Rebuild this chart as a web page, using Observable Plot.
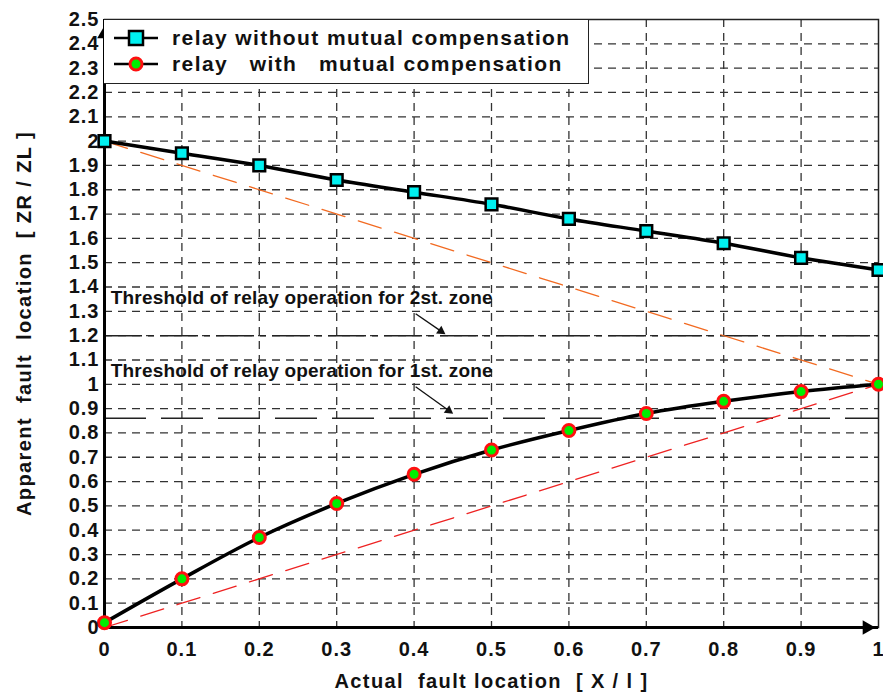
<!DOCTYPE html>
<html>
<head>
<meta charset="utf-8">
<script src="https://cdn.jsdelivr.net/npm/d3@7"></script>
<script src="https://cdn.jsdelivr.net/npm/@observablehq/plot@0.6"></script>
<style>
  body { margin: 0; background: white; }
  #wrap { position: relative; width: 883px; height: 695px; }
  svg text { white-space: pre; }
  svg [aria-label="x-axis tick label"] text, svg [aria-label="y-axis tick label"] text { letter-spacing: 1px; }
  svg [aria-label="x-axis label"], svg [aria-label="y-axis label"] { letter-spacing: 1.4px; }
  svg .annot text { letter-spacing: 0.2px; }
  #legend {
    position: absolute; left: 104px; top: 19px; width: 485px; height: 65px;
    background: white; border: 1.5px solid #222; border-left: none; box-sizing: border-box;
    font-family: "Liberation Sans", Arial, sans-serif; font-weight: bold; font-size: 21px;
    letter-spacing: 1.4px; color: #111;
  }
  .row { position: absolute; left: 0; height: 26px; display: flex; align-items: center; white-space: pre; }
  .row svg { margin-left: 10px; margin-right: 14px; }
</style>
</head>
<body>
<div id="wrap"></div>
<script>
// ---- data ----
const xPos = [0, 0.1, 0.2, 0.3, 0.4, 0.5, 0.6, 0.7, 0.8, 0.9, 1.0];
const withoutComp = [2.00, 1.95, 1.90, 1.84, 1.79, 1.74, 1.68, 1.63, 1.58, 1.52, 1.47];
const withComp = [0.02, 0.20, 0.37, 0.51, 0.63, 0.73, 0.81, 0.88, 0.93, 0.97, 1.00];
const xTicks = [0, 0.1, 0.2, 0.3, 0.4, 0.5, 0.6, 0.7, 0.8, 0.9, 1];
const yTicks = [0, 0.1, 0.2, 0.3, 0.4, 0.5, 0.6, 0.7, 0.8, 0.9, 1, 1.1, 1.2, 1.3, 1.4, 1.5, 1.6, 1.7, 1.8, 1.9, 2, 2.1, 2.2, 2.3, 2.4, 2.5];
const seriesNames = ["relay without mutual compensation", "relay   with   mutual compensation"];
const idealWithout = [{x: 0, y: 2}, {x: 1, y: 1}];
const idealWith = [{x: 0, y: 0}, {x: 1, y: 1}];
const thresholdLevels = [1.2, 0.86];
const thresholdLabels = ["Threshold of relay operation for 2st. zone", "Threshold of relay operation for 1st. zone"];
const labelAt = [{x: 0.008, y: 1.355}, {x: 0.008, y: 1.055}];
const arrowFrom = [{x: 0.402, y: 1.29}, {x: 0.402, y: 0.99}];
const arrowTo = [{x: 0.44, y: 1.207}, {x: 0.45, y: 0.88}];

// ---- derived tables ----
const dataWithout = xPos.map((x, i) => ({x, y: withoutComp[i]}));
const dataWith = xPos.map((x, i) => ({x, y: withComp[i]}));
const yGrid = yTicks.filter(v => v > 0 && v < 2.5);
const xGrid = xTicks.filter(v => v > 0 && v < 1);
const annot = thresholdLabels.map((t, i) => ({t, ...labelAt[i]}));
const W = 883, H = 695, ML = 104, MR = 5, MT = 19, MB = 68;
const pxPerX = W - ML - MR, pxPerY = (H - MT - MB) / 2.5;
const arrows = arrowFrom.map((a, i) => {
  const b = arrowTo[i];
  const dx = (b.x - a.x) * pxPerX, dy = -(b.y - a.y) * pxPerY;
  const len = Math.hypot(dx, dy);
  const back = 5;
  return {x1: a.x, y1: a.y, x2: b.x, y2: b.y,
          hx: b.x - (dx / len) * back / pxPerX, hy: b.y + (dy / len) * back / pxPerY,
          rot: Math.atan2(dx, -dy) * 180 / Math.PI};
});
const fmt = d => Number.isInteger(d) ? String(d) : d.toFixed(1);
const font = "'Liberation Sans', Arial, sans-serif";

const chart = Plot.plot({
  width: W, height: H,
  marginLeft: ML, marginRight: MR, marginTop: MT, marginBottom: MB,
  style: {fontFamily: font, fontWeight: "bold", fontSize: "20px", color: "#111", background: "white", overflow: "visible"},
  x: {domain: [0, 1]},
  y: {domain: [0, 2.5]},
  marks: [
    Plot.ruleY(yGrid, {stroke: "#333", strokeWidth: 1.3, strokeDasharray: "8,6"}),
    Plot.ruleX(xGrid, {stroke: "#333", strokeWidth: 1.3, strokeDasharray: "8,6"}),
    Plot.ruleY([thresholdLevels[0]], {stroke: "#222", strokeWidth: 1.5, strokeDasharray: "38,6,6,6"}),
    Plot.ruleY([thresholdLevels[1]], {stroke: "#222", strokeWidth: 1.5, strokeDasharray: "42,15"}),
    Plot.frame({stroke: "#222", strokeWidth: 1.5}),
    Plot.text(annot, {x: "x", y: "y", text: "t", textAnchor: "start", fontSize: 19, fontWeight: "bold", fill: "#111", className: "annot"}),
    Plot.link(arrows, {x1: "x1", y1: "y1", x2: "hx", y2: "hy", stroke: "#111", strokeWidth: 1.3}),
    Plot.dot(arrows, {x: "hx", y: "hy", symbol: "triangle2", r: 4.5, rotate: "rot", fill: "#111", stroke: "none"}),
    Plot.line(idealWithout, {x: "x", y: "y", stroke: "#f26a21", strokeWidth: 1.3, strokeDasharray: "24,14"}),
    Plot.line(idealWith, {x: "x", y: "y", stroke: "#ee2222", strokeWidth: 1.3, strokeDasharray: "24,14"}),
    Plot.line(dataWithout, {x: "x", y: "y", stroke: "#000", strokeWidth: 3.5, curve: "catmull-rom"}),
    Plot.line(dataWith, {x: "x", y: "y", stroke: "#000", strokeWidth: 3.5, curve: "catmull-rom"}),
    Plot.ruleX([0], {stroke: "#000", strokeWidth: 3}),
    Plot.ruleY([0], {stroke: "#000", strokeWidth: 3}),
    Plot.dot(dataWithout, {x: "x", y: "y", symbol: "square", r: 6.6, fill: "#00f0f0", stroke: "#000", strokeWidth: 2.5}),
    Plot.dot(dataWith, {x: "x", y: "y", r: 6, fill: "#00ee00", stroke: "#ff1010", strokeWidth: 3}),
    Plot.dot([{x: 0, y: 2.44}], {x: "x", y: "y", symbol: "triangle2", r: 7, fill: "#000", stroke: "none"}),
    Plot.dot([{x: 0.985, y: 0}], {x: "x", y: "y", symbol: "triangle2", r: 7, fill: "#000", stroke: "none", rotate: 90}),
    Plot.axisX({ticks: xTicks, tickSize: 0, tickPadding: 14, tickFormat: fmt, fontSize: 20, label: "Actual  fault location  [ X / l ]", labelAnchor: "center", labelArrow: "none", labelOffset: 60}),
    Plot.axisY({ticks: yTicks, tickSize: 0, tickPadding: 5, tickFormat: fmt, fontSize: 20, label: "Apparent  fault  location  [ ZR / ZL ]", labelAnchor: "center", labelArrow: "none", labelOffset: 88})
  ]
});

const wrap = document.getElementById("wrap");
wrap.appendChild(chart);

// legend overlay inside the plotting frame
const legend = document.createElement("div");
legend.id = "legend";
const sq = `<svg width="44" height="20"><line x1="0" y1="10" x2="44" y2="10" stroke="#000" stroke-width="2.5"/><rect x="15" y="3" width="14" height="14" fill="#00f0f0" stroke="#000" stroke-width="2.5"/></svg>`;
const ci = `<svg width="44" height="20"><line x1="0" y1="10" x2="44" y2="10" stroke="#000" stroke-width="2.5"/><circle cx="22" cy="10" r="6" fill="#00ee00" stroke="#ff1010" stroke-width="3"/></svg>`;
legend.innerHTML = `<div class="row" style="top:5px">${sq}<span>${seriesNames[0]}</span></div>` +
                   `<div class="row" style="top:31px">${ci}<span>${seriesNames[1]}</span></div>`;
wrap.appendChild(legend);
</script>
</body>
</html>
